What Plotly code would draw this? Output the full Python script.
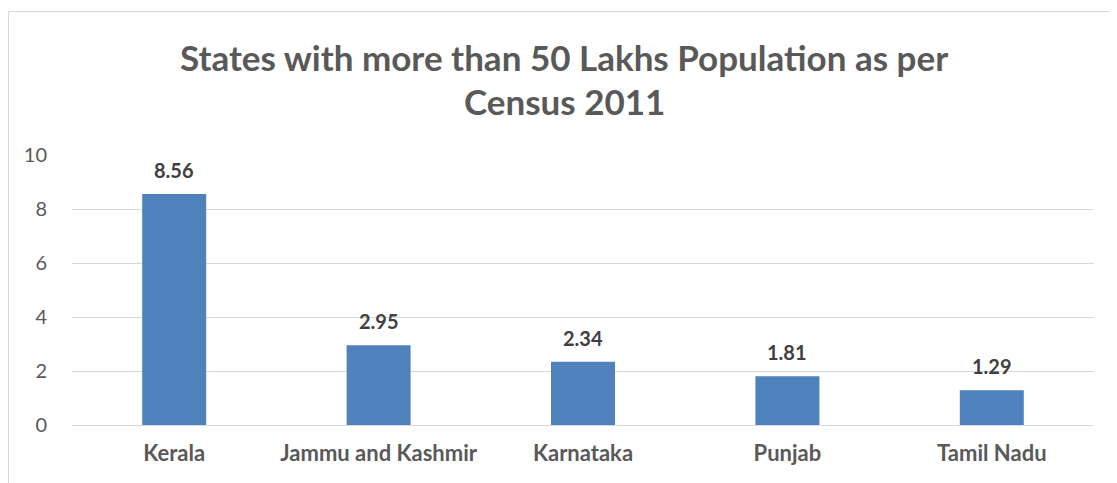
import plotly.graph_objects as go

states = ["Kerala", "Jammu and Kashmir", "Karnataka", "Punjab", "Tamil Nadu"]
values = [8.56, 2.95, 2.34, 1.81, 1.29]
labels = ["8.56", "2.95", "2.34", "1.81", "1.29"]
title_lines = ["States with more than 50 Lakhs Population as per", "Census 2011"]

FONT = "Lato"
W, H = 1109, 475
L, R, T, B = 64, 23, 147, 58
PW, PH = W - L - R, H - T - B

fig = go.Figure(go.Bar(
    x=states, y=values,
    marker=dict(color="#4f81bd", line=dict(width=0)),
    cliponaxis=False,
))

fig.update_layout(
    width=W, height=H,
    margin=dict(l=L, r=R, t=T, b=B, pad=0),
    paper_bgcolor="white", plot_bgcolor="white",
    bargap=0.687,
    showlegend=False,
    font=dict(family=FONT, color="#595959"),
    xaxis=dict(showgrid=False, showline=False, ticks="", ticklabelstandoff=13,
               tickfont=dict(family=FONT, size=22, color="#595959", weight="bold")),
    yaxis=dict(range=[0, 10], dtick=2, showgrid=True, gridcolor="#d9d9d9", gridwidth=1,
               zeroline=True, zerolinecolor="#d9d9d9", zerolinewidth=1,
               showline=False, ticks="", ticklabelstandoff=24,
               tickfont=dict(family=FONT, size=20, color="#595959")),
)

for s, v, lab in zip(states, values, labels):
    fig.add_annotation(x=s, y=v, text=lab, showarrow=False, yanchor="bottom", yshift=10,
                       font=dict(family=FONT, size=20, color="#404040", weight="bold"))

for i, (line, py) in enumerate(zip(title_lines, [49, 93])):
    fig.add_annotation(text=line, xref="paper", yref="paper", x=(556 - L) / PW, y=(T + PH - py) / PH,
                       showarrow=False, xanchor="center", yanchor="middle",
                       font=dict(family=FONT, size=35, color="#595959", weight="bold"))

# chart border (left and top edges)
bx = (0.5 - L) / PW
by = (T + PH - 3.5) / PH
fig.add_shape(type="line", xref="paper", yref="paper", x0=bx, x1=bx,
              y0=-0.5, y1=by, line=dict(color="#d9d9d9", width=1))
fig.add_shape(type="line", xref="paper", yref="paper", x0=bx, x1=1.2,
              y0=by, y1=by, line=dict(color="#d9d9d9", width=1))

fig.write_html("out.html")
